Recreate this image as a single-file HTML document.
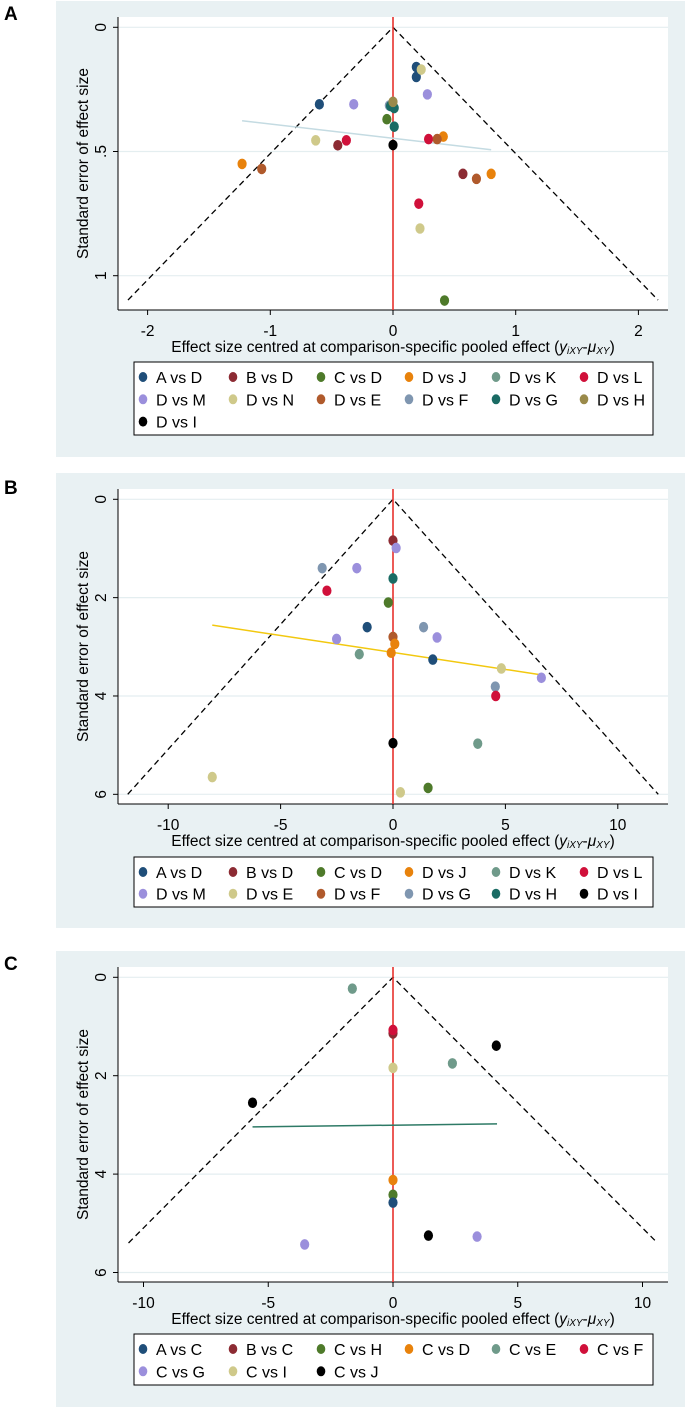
<!DOCTYPE html>
<html><head><meta charset="utf-8"><style>
body{margin:0;background:#fff;width:685px;height:1409px;overflow:hidden;font-family:"Liberation Sans",sans-serif}
svg text{font-family:"Liberation Sans",sans-serif}
</style></head><body>
<svg id="fig" width="685" height="1409" xmlns="http://www.w3.org/2000/svg"></svg>
<script>
// Colors per comparison
const colA = {"A vs D":"#1f4e79","B vs D":"#8c2b33","C vs D":"#4e7a2a","D vs J":"#e8820c","D vs K":"#6f9a8a","D vs L":"#d0103a","D vs M":"#9b8fdc","D vs N":"#cfc98a","D vs E":"#b05a2c","D vs F":"#7f96b0","D vs G":"#1a6b64","D vs H":"#9a8a4a","D vs I":"#000000"};
const colB = {"A vs D":"#1f4e79","B vs D":"#8c2b33","C vs D":"#4e7a2a","D vs J":"#e8820c","D vs K":"#6f9a8a","D vs L":"#d0103a","D vs M":"#9b8fdc","D vs E":"#cfc98a","D vs F":"#b05a2c","D vs G":"#7f96b0","D vs H":"#1a6b64","D vs I":"#000000"};
// Panel A data
const legendA = ["A vs D","B vs D","C vs D","D vs J","D vs K","D vs L","D vs M","D vs N","D vs E","D vs F","D vs G","D vs H","D vs I"];
const groupsA = ["A vs D","A vs D","A vs D","D vs N","D vs N","D vs N","D vs M","D vs M","D vs F","D vs G","D vs G","D vs G","D vs H","C vs D","C vs D","D vs L","D vs L","D vs L","D vs J","D vs J","D vs J","D vs E","D vs E","D vs E","B vs D","B vs D","D vs I"];
const xA = [0.19,0.19,-0.60,0.23,-0.63,0.22,0.28,-0.32,-0.03,-0.02,0.01,0.01,0,-0.05,0.42,-0.38,0.29,0.21,0.41,-1.23,0.80,0.36,-1.07,0.68,-0.45,0.57,0];
const yA = [0.16,0.20,0.31,0.17,0.455,0.81,0.27,0.31,0.315,0.317,0.325,0.40,0.30,0.37,1.10,0.455,0.45,0.71,0.44,0.55,0.59,0.45,0.57,0.61,0.475,0.59,0.474];
const regA = [[-1.23,0.376],[0.80,0.493]];
const xTicksA = [-2,-1,0,1,2];
const xTickLabA = ["-2","-1","0","1","2"];
const yTicksA = [0,0.5,1];
const yTickLabA = ["0",".5","1"];
// Panel B data
const legendB = ["A vs D","B vs D","C vs D","D vs J","D vs K","D vs L","D vs M","D vs E","D vs F","D vs G","D vs H","D vs I"];
const groupsB = ["B vs D","D vs M","D vs M","D vs M","D vs M","D vs M","D vs G","D vs G","D vs G","D vs H","D vs L","D vs L","C vs D","C vs D","A vs D","A vs D","D vs F","D vs J","D vs J","D vs K","D vs K","D vs E","D vs E","D vs E","D vs I"];
const xB = [0,0.14,-1.61,-2.51,1.96,6.6,-3.15,1.36,4.55,0,-2.94,4.57,-0.21,1.56,-1.15,1.77,0,0.08,-0.08,-1.5,3.77,4.82,-8.04,0.33,0];
const yB = [0.84,0.99,1.40,2.84,2.81,3.63,1.40,2.60,3.81,1.61,1.86,4.0,2.10,5.87,2.60,3.26,2.80,2.94,3.12,3.15,4.97,3.44,5.65,5.96,4.96];
const regB = [[-8.04,2.56],[6.6,3.57]];
const xTicksB = [-10,-5,0,5,10];
const xTickLabB = ["-10","-5","0","5","10"];
const yTicksB = [0,2,4,6];
const yTickLabB = ["0","2","4","6"];
// Panel C data
const colC = {"A vs C":"#1f4e79","B vs C":"#8c2b33","C vs H":"#4e7a2a","C vs D":"#e8820c","C vs E":"#6f9a8a","C vs F":"#d0103a","C vs G":"#9b8fdc","C vs I":"#cfc98a","C vs J":"#000000"};
const legendC = ["A vs C","B vs C","C vs H","C vs D","C vs E","C vs F","C vs G","C vs I","C vs J"];
const groupsC = ["C vs E","C vs E","B vs C","C vs F","C vs J","C vs J","C vs J","C vs I","C vs D","C vs H","A vs C","C vs G","C vs G"];
const xC = [-1.63,2.38,0,0,4.14,-5.63,1.42,0,0,0,0,-3.54,3.37];
const yC = [0.23,1.75,1.14,1.07,1.39,2.55,5.25,1.84,4.12,4.42,4.58,5.43,5.27];
const regC = [[-5.63,3.04],[4.17,2.98]];
const xTicksC = [-10,-5,0,5,10];
const xTickLabC = ["-10","-5","0","5","10"];
const yTicksC = [0,2,4,6];
const yTickLabC = ["0","2","4","6"];

const NS="http://www.w3.org/2000/svg";
const svg=document.getElementById('fig');
function mk(tag,attrs,parent,txt){const e=document.createElementNS(NS,tag);for(const k in attrs)e.setAttribute(k,attrs[k]);if(txt!==undefined)e.textContent=txt;(parent||svg).appendChild(e);return e;}

function panel(p){
  const g=mk('g',{});
  
  
  const lab=mk('text',{x:4,y:p.labelY,'font-size':19,'font-weight':'bold',fill:'#000'},g,p.id);
  
  
  const bg=mk('rect',{x:56,y:p.bgY0,width:629,height:p.bgY1-p.bgY0,fill:'#e9f1f3'},g);
  
  
  const pl=mk('rect',{x:118,y:p.plY0,width:550,height:p.plY1-p.plY0,fill:'#fff'},g);
  
  
  const sx=v=>p.x0+v*p.kx, sy=v=>p.y0+v*p.ky;
  p.yTicks.forEach((t,i)=>{
    const gl=mk('line',{x1:118,x2:668,y1:sy(t),y2:sy(t),stroke:'#e4eef0','stroke-width':1.2},g);
    
    
    mk('line',{x1:113,x2:118,y1:sy(t),y2:sy(t),stroke:'#000','stroke-width':1},g);
    const tl=mk('text',{x:0,y:0,'font-size':15.5,'text-anchor':'middle',transform:`translate(106,${sy(t)}) rotate(-90)`},g,p.yTickLab[i]);
    
    
  });
  p.xTicks.forEach((t,i)=>{
    mk('line',{x1:sx(t),x2:sx(t),y1:p.plY1,y2:p.plY1+5,stroke:'#000','stroke-width':1},g);
    const tl=mk('text',{x:sx(t),y:p.plY1+26,'font-size':15.5,'text-anchor':'middle'},g,p.xTickLab[i]);
    
    
  });
  mk('line',{x1:118,x2:118,y1:p.plY0,y2:p.plY1,stroke:'#000','stroke-width':1},g);
  mk('line',{x1:118,x2:668,y1:p.plY1,y2:p.plY1,stroke:'#000','stroke-width':1},g);
  const yt=mk('text',{x:0,y:0,'font-size':15.5,'text-anchor':'middle',transform:`translate(88,${(p.plY0+p.plY1)/2}) rotate(-90)`},g,'Standard error of effect size');
  
  
  const xt=mk('text',{x:393,y:p.plY1+42,'font-size':15.5,'text-anchor':'middle'},g);
  
  
  xt.innerHTML='Effect size centred at comparison-specific pooled effect (<tspan font-style="italic">y</tspan><tspan font-style="italic" font-size="10" dy="2">iXY</tspan><tspan dy="-2">-</tspan><tspan font-style="italic">μ</tspan><tspan font-style="italic" font-size="10" dy="2">XY</tspan><tspan dy="-2">)</tspan>';
  const f=mk('polyline',{points:`${sx(-p.fx)},${sy(p.fy)} ${sx(0)},${sy(0)} ${sx(p.fx)},${sy(p.fy)}`,fill:'none',stroke:'#000','stroke-width':1.3,'stroke-dasharray':'6,4'},g);
  
  
  const v=mk('line',{x1:sx(0),x2:sx(0),y1:p.plY0,y2:p.plY1,stroke:'#e8322d','stroke-width':1.6},g);
  
  
  const r=mk('line',{x1:sx(p.reg[0][0]),y1:sy(p.reg[0][1]),x2:sx(p.reg[1][0]),y2:sy(p.reg[1][1]),stroke:p.regCol,'stroke-width':1.5},g);
  
  
  p.xs.forEach((xv,i)=>{
    const c=mk('ellipse',{cx:sx(xv),cy:sy(p.ys[i]),rx:4.6,ry:5.3,fill:p.col[p.groups[i]]},g);
    
    
  });
  const lg=mk('g',{},g);
  
  
  mk('rect',{x:134,y:p.legY0,width:519,height:p.legY1-p.legY0,fill:'#fff',stroke:'#000','stroke-width':1},lg);
  const cols=[143,233,321,409,496,584];
  p.legend.forEach((name,i)=>{
    const cx=cols[i%6], cy=p.legRow0+Math.floor(i/6)*p.legDy;
    const e=mk('g',{},lg);
    
    
    mk('ellipse',{cx:cx,cy:cy,rx:4.3,ry:5,fill:p.col[name]},e);
    mk('text',{x:cx+13,y:cy+6,'font-size':16},e,name);
  });
}
panel({id:'A',labelY:20,bgY0:1,bgY1:457,plY0:17,plY1:310,x0:393,kx:122.7,y0:27.3,ky:248.4,fx:2.16,fy:1.098,
  xs:xA,ys:yA,groups:groupsA,col:colA,reg:regA,regCol:'#c4dbe2',xTicks:xTicksA,xTickLab:xTickLabA,yTicks:yTicksA,yTickLab:yTickLabA,
  legend:legendA,legY0:362,legY1:435,legRow0:377,legDy:22.3});
panel({id:'B',labelY:494,bgY0:473,bgY1:928,plY0:489,plY1:804,x0:393,kx:22.48,y0:499.3,ky:49.17,fx:11.8,fy:6,
  xs:xB,ys:yB,groups:groupsB,col:colB,reg:regB,regCol:'#f2c80f',xTicks:xTicksB,xTickLab:xTickLabB,yTicks:yTicksB,yTickLab:yTickLabB,
  legend:legendB,legY0:857,legY1:907,legRow0:872,legDy:21.7});
panel({id:'C',labelY:970,bgY0:951,bgY1:1407,plY0:967,plY1:1282,x0:393,kx:24.95,y0:977.3,ky:49.2,fx:10.6,fy:5.4,
  xs:xC,ys:yC,groups:groupsC,col:colC,reg:regC,regCol:'#2e7a66',xTicks:xTicksC,xTickLab:xTickLabC,yTicks:yTicksC,yTickLab:yTickLabC,
  legend:legendC,legY0:1334,legY1:1385,legRow0:1349,legDy:22.3});
</script>
</body></html>
